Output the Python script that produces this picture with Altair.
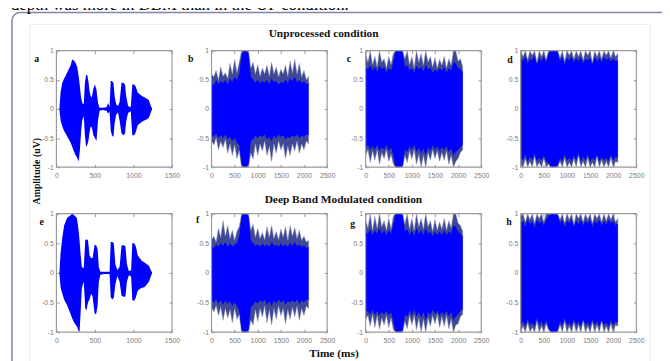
import altair as alt
import pandas as pd

# ---------------- data ----------------
# speech waveforms (panels a and e): time (ms), upper / lower envelope
A_T = [40, 55, 77, 100, 120, 160, 185, 205, 225, 245, 270, 290, 305, 320, 335, 355, 370, 385, 400, 415,
       430, 445, 460, 480, 500, 520, 540, 560, 600, 650, 670, 690, 705, 720, 740, 755, 775, 800, 820, 845,
       870, 890, 905, 930, 965, 985, 1010, 1030, 1055, 1080, 1110, 1140, 1170, 1200, 1225, 1240]
A_UP = [0.03, 0.30, 0.45, 0.52, 0.57, 0.68, 0.75, 0.85, 0.83, 0.80, 0.72, 0.55, 0.38, 0.20, 0.10, 0.08, 0.45, 0.58, 0.58, 0.48,
        0.30, 0.22, 0.20, 0.35, 0.42, 0.33, 0.10, 0.02, 0.02, 0.03, 0.10, 0.03, 0.48, 0.48, 0.45, 0.22, 0.08, 0.05, 0.12, 0.45,
        0.45, 0.42, 0.22, 0.05, 0.03, 0.42, 0.42, 0.38, 0.28, 0.25, 0.22, 0.20, 0.18, 0.15, 0.05, 0.01]
A_LO = [-0.03, -0.20, -0.30, -0.38, -0.42, -0.52, -0.58, -0.65, -0.72, -0.78, -0.84, -0.90, -0.70, -0.40, -0.20, -0.12, -0.45, -0.65, -0.62, -0.55,
        -0.40, -0.30, -0.32, -0.45, -0.50, -0.55, -0.20, -0.03, -0.02, -0.03, -0.08, -0.05, -0.37, -0.45, -0.48, -0.25, -0.10, -0.06, -0.20, -0.42,
        -0.45, -0.42, -0.22, -0.07, -0.04, -0.45, -0.45, -0.40, -0.28, -0.25, -0.22, -0.20, -0.18, -0.15, -0.06, -0.01]

E_T = [40, 55, 77, 100, 140, 180, 205, 235, 265, 285, 300, 315, 330, 355, 375, 390, 410, 430, 450, 470,
       495, 515, 535, 550, 570, 620, 690, 705, 725, 745, 765, 790, 820, 845, 870, 895, 915, 940, 970, 985,
       1010, 1030, 1055, 1080, 1110, 1140, 1170, 1200, 1225, 1240]
E_UP = [0.03, 0.35, 0.60, 0.80, 0.93, 0.97, 1.00, 0.97, 0.93, 0.75, 0.55, 0.30, 0.10, 0.08, 0.55, 0.57, 0.55, 0.30, 0.25, 0.25,
        0.47, 0.47, 0.40, 0.10, 0.02, 0.02, 0.02, 0.52, 0.52, 0.50, 0.15, 0.05, 0.10, 0.46, 0.47, 0.45, 0.15, 0.03, 0.05, 0.50,
        0.50, 0.45, 0.30, 0.25, 0.20, 0.18, 0.15, 0.12, 0.05, 0.01]
E_LO = [-0.03, -0.25, -0.35, -0.45, -0.55, -0.68, -0.77, -0.85, -0.90, -0.97, -1.00, -0.65, -0.25, -0.15, -0.60, -0.63, -0.50, -0.45, -0.35, -0.40,
        -0.68, -0.70, -0.55, -0.15, -0.03, -0.02, -0.02, -0.41, -0.45, -0.42, -0.20, -0.05, -0.15, -0.38, -0.40, -0.40, -0.15, -0.04, -0.06, -0.46,
        -0.47, -0.42, -0.30, -0.27, -0.25, -0.24, -0.20, -0.15, -0.06, -0.01]

# vocoded waveforms (panels b, c, d, f, g, h), sampled every 50 ms from 0 to 2100 ms
T_NOISE = list(range(0, 2101, 50))

B_OUT_UP = [0.60, 0.55, 0.66, 0.50, 0.72, 0.56, 0.62, 0.52, 0.78, 0.60, 0.85, 0.62, 0.80, 1.00, 1.00, 1.00, 1.00, 0.70, 0.80, 0.60, 0.76, 0.56, 0.70, 0.60, 0.75, 0.56, 0.80, 0.60, 0.72, 0.55, 0.68, 0.60, 0.75, 0.56, 0.82, 0.62, 0.85, 0.60, 0.78, 0.55, 0.66, 0.50, 0.56]
B_CORE_UP = [0.45, 0.40, 0.50, 0.42, 0.48, 0.44, 0.50, 0.42, 0.52, 0.46, 0.55, 0.50, 0.60, 0.92, 1.00, 1.00, 0.95, 0.55, 0.50, 0.45, 0.50, 0.44, 0.48, 0.45, 0.50, 0.42, 0.52, 0.46, 0.48, 0.42, 0.46, 0.44, 0.50, 0.45, 0.52, 0.48, 0.55, 0.46, 0.50, 0.44, 0.48, 0.42, 0.45]
B_OUT_LO = [-0.55, -0.62, -0.50, -0.70, -0.56, -0.66, -0.52, -0.76, -0.60, -0.80, -0.62, -0.85, -0.72, -1.00, -1.00, -1.00, -1.00, -0.76, -0.86, -0.60, -0.80, -0.60, -0.72, -0.55, -0.80, -0.64, -0.90, -0.60, -0.76, -0.55, -0.70, -0.60, -0.85, -0.64, -0.80, -0.60, -0.72, -0.55, -0.76, -0.60, -0.70, -0.55, -0.60]
B_CORE_LO = [-0.44, -0.48, -0.42, -0.50, -0.45, -0.50, -0.44, -0.52, -0.48, -0.55, -0.50, -0.58, -0.62, -0.95, -1.00, -1.00, -0.95, -0.55, -0.52, -0.46, -0.50, -0.45, -0.48, -0.44, -0.52, -0.48, -0.55, -0.46, -0.50, -0.44, -0.48, -0.45, -0.52, -0.48, -0.50, -0.46, -0.48, -0.44, -0.50, -0.46, -0.48, -0.44, -0.45]

F_OUT_UP = [0.56, 0.62, 0.52, 0.75, 0.60, 0.88, 0.62, 0.80, 0.58, 0.72, 0.55, 0.70, 0.78, 1.00, 1.00, 1.00, 1.00, 0.72, 0.82, 0.60, 0.75, 0.58, 0.68, 0.56, 0.78, 0.60, 0.80, 0.58, 0.70, 0.56, 0.74, 0.60, 0.78, 0.55, 0.80, 0.62, 0.76, 0.58, 0.72, 0.55, 0.62, 0.52, 0.55]
F_CORE_UP = [0.45, 0.42, 0.48, 0.44, 0.50, 0.46, 0.52, 0.44, 0.50, 0.45, 0.48, 0.50, 0.62, 0.95, 1.00, 1.00, 0.95, 0.55, 0.50, 0.46, 0.48, 0.44, 0.50, 0.45, 0.48, 0.44, 0.52, 0.46, 0.48, 0.44, 0.50, 0.45, 0.48, 0.44, 0.50, 0.46, 0.52, 0.45, 0.48, 0.44, 0.46, 0.42, 0.44]
F_OUT_LO = [-0.58, -0.66, -0.55, -0.72, -0.58, -0.80, -0.60, -0.76, -0.62, -0.84, -0.60, -0.78, -0.70, -1.00, -1.00, -1.00, -1.00, -0.80, -0.88, -0.62, -0.82, -0.60, -0.74, -0.56, -0.84, -0.62, -0.88, -0.60, -0.78, -0.56, -0.72, -0.60, -0.86, -0.62, -0.78, -0.58, -0.74, -0.56, -0.80, -0.60, -0.72, -0.56, -0.60]
F_CORE_LO = [-0.46, -0.50, -0.44, -0.52, -0.46, -0.54, -0.46, -0.52, -0.48, -0.56, -0.50, -0.56, -0.64, -0.96, -1.00, -1.00, -0.96, -0.58, -0.54, -0.48, -0.52, -0.46, -0.50, -0.45, -0.54, -0.48, -0.56, -0.46, -0.52, -0.45, -0.50, -0.46, -0.54, -0.48, -0.50, -0.46, -0.50, -0.45, -0.52, -0.46, -0.50, -0.45, -0.46]

C_OUT_UP = [0.95, 0.80, 1.00, 0.76, 0.90, 0.72, 1.00, 0.80, 0.86, 0.70, 0.90, 0.76, 0.95, 1.00, 1.00, 1.00, 1.00, 0.86, 1.00, 0.76, 0.90, 0.70, 1.00, 0.80, 0.95, 0.75, 1.00, 0.80, 0.90, 0.72, 0.88, 0.70, 0.85, 0.75, 0.90, 0.70, 0.86, 0.75, 1.00, 1.00, 0.82, 0.86, 0.72]
C_CORE_UP = [0.72, 0.68, 0.75, 0.66, 0.72, 0.64, 0.74, 0.68, 0.72, 0.62, 0.70, 0.66, 0.80, 1.00, 1.00, 1.00, 0.98, 0.72, 0.75, 0.66, 0.70, 0.62, 0.74, 0.68, 0.72, 0.64, 0.76, 0.68, 0.70, 0.62, 0.68, 0.64, 0.70, 0.66, 0.72, 0.62, 0.70, 0.66, 0.80, 0.78, 0.70, 0.68, 0.64]
C_OUT_LO = [-0.80, -0.70, -0.92, -0.72, -0.88, -0.70, -0.95, -0.75, -0.85, -0.70, -0.90, -0.78, -0.95, -1.00, -1.00, -1.00, -1.00, -0.80, -0.92, -0.72, -0.86, -0.70, -0.95, -0.78, -1.00, -0.80, -1.00, -0.75, -0.88, -0.70, -0.85, -0.72, -0.90, -0.75, -0.88, -0.72, -0.95, -0.80, -1.00, -0.90, -0.85, -0.75, -0.70]
C_CORE_LO = [-0.66, -0.62, -0.70, -0.64, -0.70, -0.62, -0.72, -0.66, -0.70, -0.62, -0.72, -0.66, -0.80, -1.00, -1.00, -1.00, -0.98, -0.70, -0.74, -0.64, -0.70, -0.62, -0.74, -0.66, -0.76, -0.68, -0.80, -0.66, -0.72, -0.62, -0.70, -0.64, -0.72, -0.66, -0.70, -0.64, -0.74, -0.68, -0.80, -0.74, -0.70, -0.66, -0.62]

G_OUT_UP = [0.90, 0.76, 1.00, 0.72, 0.95, 0.75, 1.00, 0.78, 0.88, 0.72, 0.92, 0.74, 0.96, 1.00, 1.00, 1.00, 1.00, 0.82, 1.00, 0.74, 0.92, 0.72, 1.00, 0.78, 0.92, 0.74, 1.00, 0.78, 0.88, 0.70, 0.90, 0.72, 0.86, 0.74, 0.92, 0.72, 0.88, 0.76, 1.00, 1.00, 0.84, 0.80, 0.70]
G_CORE_UP = [0.70, 0.66, 0.74, 0.64, 0.72, 0.66, 0.76, 0.66, 0.72, 0.64, 0.72, 0.66, 0.82, 1.00, 1.00, 1.00, 0.98, 0.70, 0.74, 0.64, 0.72, 0.62, 0.76, 0.66, 0.72, 0.64, 0.76, 0.66, 0.70, 0.62, 0.70, 0.64, 0.70, 0.64, 0.72, 0.64, 0.70, 0.66, 0.80, 0.78, 0.70, 0.66, 0.62]
G_OUT_LO = [-0.78, -0.72, -0.90, -0.70, -0.92, -0.72, -0.95, -0.76, -0.88, -0.72, -0.92, -0.76, -0.96, -1.00, -1.00, -1.00, -1.00, -0.82, -0.94, -0.72, -0.88, -0.72, -0.96, -0.76, -1.00, -0.78, -1.00, -0.76, -0.90, -0.72, -0.86, -0.70, -0.92, -0.74, -0.90, -0.72, -0.94, -0.78, -1.00, -0.88, -0.86, -0.74, -0.70]
G_CORE_LO = [-0.66, -0.64, -0.70, -0.62, -0.72, -0.64, -0.72, -0.66, -0.70, -0.64, -0.72, -0.66, -0.82, -1.00, -1.00, -1.00, -0.98, -0.70, -0.74, -0.64, -0.72, -0.62, -0.74, -0.66, -0.76, -0.66, -0.80, -0.66, -0.72, -0.62, -0.70, -0.64, -0.72, -0.66, -0.72, -0.64, -0.74, -0.66, -0.80, -0.74, -0.70, -0.64, -0.62]

D_OUT_UP = [1.00, 0.90, 1.00, 0.85, 1.00, 0.92, 1.00, 0.80, 1.00, 0.90, 1.00, 0.85, 1.00, 1.00, 1.00, 1.00, 1.00, 0.88, 1.00, 0.82, 1.00, 0.92, 1.00, 0.86, 1.00, 0.90, 1.00, 0.84, 1.00, 0.92, 1.00, 0.80, 1.00, 0.90, 1.00, 0.86, 1.00, 0.92, 1.00, 0.88, 1.00, 0.90, 0.95]
D_CORE_UP = [0.88, 0.82, 0.90, 0.78, 0.86, 0.84, 0.92, 0.76, 0.88, 0.82, 0.90, 0.80, 0.95, 1.00, 1.00, 1.00, 0.98, 0.82, 0.90, 0.76, 0.88, 0.84, 0.90, 0.80, 0.88, 0.82, 0.90, 0.78, 0.86, 0.84, 0.88, 0.76, 0.90, 0.82, 0.88, 0.80, 0.90, 0.84, 0.88, 0.82, 0.86, 0.82, 0.84]
D_OUT_LO = [-0.95, -1.00, -0.86, -1.00, -0.90, -1.00, -0.82, -1.00, -0.92, -1.00, -0.85, -1.00, -0.95, -1.00, -1.00, -1.00, -1.00, -0.90, -1.00, -0.84, -1.00, -0.92, -1.00, -0.86, -1.00, -0.80, -1.00, -0.90, -1.00, -0.84, -1.00, -0.92, -1.00, -0.82, -1.00, -0.88, -1.00, -0.90, -1.00, -0.84, -1.00, -0.90, -0.92]
D_CORE_LO = [-0.84, -0.88, -0.78, -0.90, -0.82, -0.88, -0.76, -0.90, -0.84, -0.88, -0.80, -0.90, -0.92, -1.00, -1.00, -1.00, -0.96, -0.84, -0.90, -0.78, -0.88, -0.84, -0.90, -0.80, -0.88, -0.76, -0.90, -0.82, -0.88, -0.78, -0.90, -0.84, -0.88, -0.78, -0.90, -0.82, -0.88, -0.84, -0.90, -0.78, -0.88, -0.82, -0.84]

H_OUT_UP = [0.95, 1.00, 0.86, 1.00, 0.90, 1.00, 0.84, 1.00, 0.92, 1.00, 0.86, 1.00, 1.00, 1.00, 1.00, 1.00, 1.00, 0.90, 1.00, 0.84, 1.00, 0.90, 1.00, 0.82, 1.00, 0.92, 1.00, 0.86, 1.00, 0.90, 1.00, 0.84, 1.00, 0.92, 1.00, 0.86, 1.00, 0.88, 1.00, 0.90, 1.00, 0.86, 0.92]
H_CORE_UP = [0.84, 0.88, 0.78, 0.90, 0.82, 0.88, 0.76, 0.90, 0.84, 0.88, 0.80, 0.90, 0.95, 1.00, 1.00, 1.00, 0.98, 0.84, 0.90, 0.78, 0.88, 0.84, 0.90, 0.78, 0.88, 0.82, 0.90, 0.80, 0.88, 0.84, 0.90, 0.78, 0.88, 0.84, 0.90, 0.80, 0.88, 0.82, 0.90, 0.84, 0.88, 0.80, 0.84]
H_OUT_LO = [-1.00, -0.90, -1.00, -0.84, -1.00, -0.92, -1.00, -0.82, -1.00, -0.90, -1.00, -0.86, -0.96, -1.00, -1.00, -1.00, -1.00, -0.88, -1.00, -0.82, -1.00, -0.90, -1.00, -0.84, -1.00, -0.88, -1.00, -0.82, -1.00, -0.90, -1.00, -0.84, -1.00, -0.88, -1.00, -0.82, -1.00, -0.90, -1.00, -0.86, -1.00, -0.88, -0.90]
H_CORE_LO = [-0.88, -0.82, -0.90, -0.78, -0.88, -0.84, -0.90, -0.76, -0.88, -0.82, -0.90, -0.80, -0.92, -1.00, -1.00, -1.00, -0.96, -0.82, -0.90, -0.76, -0.88, -0.84, -0.90, -0.78, -0.88, -0.82, -0.90, -0.78, -0.88, -0.84, -0.90, -0.78, -0.88, -0.82, -0.90, -0.80, -0.88, -0.84, -0.90, -0.80, -0.88, -0.82, -0.84]

Y_TICKS = [-1, -0.5, 0, 0.5, 1]
X_MAX_SPEECH = 1500
X_MAX_NOISE = 2500

TITLE_TOP = "Unprocessed condition"
TITLE_BOTTOM = "Deep Band Modulated condition"
X_TITLE = "Time (ms)"
Y_TITLE = "Amplitude (uV)"
CAPTION = "depth was more in DBM than in the UP condition."

# ---------------- layout / style ----------------
W, H = 662, 353
COLS = [(49, 166), (206, 323), (362, 479), (519, 636)]
ROWS = [(41, 159), (206, 326)]

SERIF = "Liberation Serif"
SANS = "Liberation Sans"
LABEL_GRAY = "#7d7d7d"
FRAME = "#9a9a9a"
BLUE = "#0000ff"
OUTER = "#3e4896"


def tick_axis(orient, offset, values):
    return alt.Axis(orient=orient, offset=offset, values=values, labels=False, domain=False,
                    grid=False, ticks=True, tickSize=3, tickColor=FRAME, tickWidth=1, title=None)


def label_axis(orient, offset, values, pad):
    return alt.Axis(orient=orient, offset=offset, values=values, labels=True, ticks=False, tickSize=0,
                    domain=False, grid=False, title=None, labelFont=SANS, labelFontSize=7,
                    labelColor=LABEL_GRAY, labelPadding=pad, labelFlush=False, labelOverlap=False,
                    labelExpr="'' + datum.value", zindex=1)


def panel(col, row, xmax, outer=None, core=None, speech=None):
    x0, x1 = col
    y0, y1 = row
    xs = alt.Scale(domain=[0, xmax], range=[x0, x1], nice=False, zero=False)
    ys = alt.Scale(domain=[-1, 1], range=[y1, y0], nice=False, zero=False)
    xv = list(range(0, xmax + 1, 500))
    layers = []
    if speech is not None:
        t, up, lo = speech
        df = pd.DataFrame({"t": t, "hi": up, "lo": lo})
        layers.append(alt.Chart(df).mark_area(color=BLUE, interpolate="linear").encode(
            x=alt.X("t:Q", scale=xs, axis=label_axis("bottom", y1 - H, xv, 4)),
            y=alt.Y("hi:Q", scale=ys, axis=label_axis("left", -x0, Y_TICKS, 3)),
            y2="lo:Q"))
        base = pd.DataFrame({"s": [t[0]], "e": [t[-1]], "z": [0]})
        layers.append(alt.Chart(base).mark_rule(color=BLUE, strokeWidth=1.2).encode(
            x=alt.X("s:Q", scale=xs, axis=tick_axis("top", -y1, xv)),
            x2="e:Q",
            y=alt.Y("z:Q", scale=ys, axis=tick_axis("right", x0 - W, Y_TICKS))))
    else:
        up, lo = outer
        cu, cl = core
        df_o = pd.DataFrame({"t": T_NOISE, "hi": up, "lo": lo})
        df_c = pd.DataFrame({"t": T_NOISE, "hi": cu, "lo": cl})
        layers.append(alt.Chart(df_o).mark_area(color=OUTER, interpolate="linear",
                                                stroke="#9096b4", strokeWidth=0.5).encode(
            x=alt.X("t:Q", scale=xs, axis=label_axis("bottom", y1 - H, xv, 4)),
            y=alt.Y("hi:Q", scale=ys, axis=label_axis("left", -x0, Y_TICKS, 3)),
            y2="lo:Q"))
        layers.append(alt.Chart(df_c).mark_area(color=BLUE, interpolate="linear").encode(
            x=alt.X("t:Q", scale=xs, axis=tick_axis("top", -y1, xv)),
            y=alt.Y("hi:Q", scale=ys, axis=tick_axis("right", x0 - W, Y_TICKS)),
            y2="lo:Q"))
    fr = pd.DataFrame({"a": [0], "b": [xmax], "c": [-1], "d": [1]})
    layers.append(alt.Chart(fr).mark_rect(fill="transparent", stroke=FRAME, strokeWidth=1.2).encode(
        x=alt.X("a:Q", scale=xs, axis=tick_axis("bottom", y0 - H, xv)),
        x2="b:Q",
        y=alt.Y("c:Q", scale=ys, axis=tick_axis("left", -x1, Y_TICKS)),
        y2="d:Q"))
    return layers


one = pd.DataFrame({"k": [0]})


def text(s, x, y, size, weight="bold", font=SERIF, angle=0, align="center", color="#111111", baseline="middle"):
    props = dict(text=s, font=font, fontSize=size, fontWeight=weight, align=align,
                 baseline=baseline, color=color)
    if angle:
        props["angle"] = angle
    return alt.Chart(one).mark_text(**props).encode(x=alt.value(x), y=alt.value(y))


layers = []
# page decoration: outer rounded box and inner faint figure frame
layers.append(alt.Chart(one).mark_rect(fill="transparent", stroke="#8282aa", strokeWidth=1.5, cornerRadius=8).encode(
    x=alt.value(4), x2=alt.value(W + 30), y=alt.value(2.5), y2=alt.value(H + 30)))
layers.append(alt.Chart(one).mark_rect(fill="transparent", stroke="#ececec", strokeWidth=1).encode(
    x=alt.value(22), x2=alt.value(650), y=alt.value(14.5), y2=alt.value(H + 30)))

layers += panel(COLS[0], ROWS[0], X_MAX_SPEECH, speech=(A_T, A_UP, A_LO))
layers += panel(COLS[1], ROWS[0], X_MAX_NOISE, outer=(B_OUT_UP, B_OUT_LO), core=(B_CORE_UP, B_CORE_LO))
layers += panel(COLS[2], ROWS[0], X_MAX_NOISE, outer=(C_OUT_UP, C_OUT_LO), core=(C_CORE_UP, C_CORE_LO))
layers += panel(COLS[3], ROWS[0], X_MAX_NOISE, outer=(D_OUT_UP, D_OUT_LO), core=(D_CORE_UP, D_CORE_LO))
layers += panel(COLS[0], ROWS[1], X_MAX_SPEECH, speech=(E_T, E_UP, E_LO))
layers += panel(COLS[1], ROWS[1], X_MAX_NOISE, outer=(F_OUT_UP, F_OUT_LO), core=(F_CORE_UP, F_CORE_LO))
layers += panel(COLS[2], ROWS[1], X_MAX_NOISE, outer=(G_OUT_UP, G_OUT_LO), core=(G_CORE_UP, G_CORE_LO))
layers += panel(COLS[3], ROWS[1], X_MAX_NOISE, outer=(H_OUT_UP, H_OUT_LO), core=(H_CORE_UP, H_CORE_LO))

# texts
layers.append(text(CAPTION, 3, 0, 17, weight="normal", align="left", color="#000000", baseline="alphabetic"))
layers.append(text(TITLE_TOP, 319.5, 27, 11.5, baseline="alphabetic"))
layers.append(text(TITLE_BOTTOM, 339.5, 195, 11.5, baseline="alphabetic"))
layers.append(text(X_TITLE, 330, 351, 11.5, baseline="alphabetic"))
layers.append(text(Y_TITLE, 29, 163, 10, angle=270))
for letter, (lx, ly) in zip("abcdefgh", [(29, 50), (185, 50), (345, 50), (508, 51),
                                         (34, 215), (192, 212), (349, 217), (507, 215)]):
    layers.append(text(letter, lx, ly, 10))

chart = alt.layer(*layers).resolve_scale(x="independent", y="independent").resolve_axis(
    x="independent", y="independent").properties(
    width=W, height=H, padding=0, autosize=alt.AutoSizeParams(type="none")
).configure_view(stroke="transparent")

chart.save("out.html", embed_options={"renderer": "svg", "actions": False})
